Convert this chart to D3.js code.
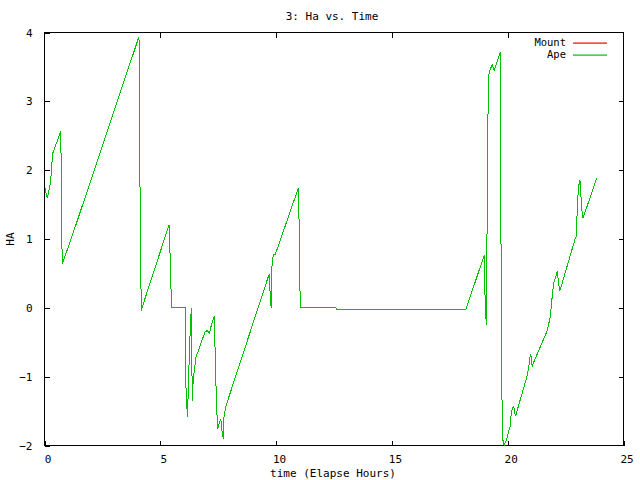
<!DOCTYPE html>
<html><head><meta charset="utf-8">
<script src="https://cdn.jsdelivr.net/npm/d3@7"></script>
<style>body{margin:0;background:#fff}svg{display:block}text{font-family:"DejaVu Sans Mono",monospace;font-size:11px;fill:#000}</style>
</head><body><svg id="c" width="640" height="480"></svg>
<script>
const title = "3: Ha vs. Time";
const xLabel = "time (Elapse Hours)";
const yLabel = "HA";
const seriesNames = ["Mount", "Ape"];
const xTicks = [0, 5, 10, 15, 20, 25];
const yTicks = [-2, -1, 0, 1, 2, 3, 4];
const timeHours = [0.02,0.12,0.21,0.27,0.32,0.35,0.70,0.72,0.74,0.77,1.20,4.08,4.10,4.14,4.18,4.21,5.38,5.41,5.46,5.49,6.09,6.10,6.11,6.17,6.20,6.25,6.30,6.34,6.38,6.42,6.47,6.54,6.93,7.03,7.12,7.22,7.33,7.35,7.39,7.44,7.48,7.53,7.61,7.66,7.72,7.75,7.82,9.66,9.71,9.75,9.79,9.82,9.88,9.97,10.96,10.99,11.02,11.05,12.59,12.61,18.20,18.99,19.03,19.08,19.10,19.13,19.18,19.23,19.33,19.42,19.53,19.67,19.70,19.72,19.77,19.81,19.85,19.96,20.04,20.10,20.14,20.20,20.26,20.30,20.35,20.41,20.82,20.89,20.95,20.98,21.02,21.06,21.11,21.71,21.83,21.88,21.94,21.99,22.09,22.14,22.20,22.25,22.30,22.91,22.95,22.98,23.02,23.07,23.12,23.15,23.20,23.24,23.29,23.84];
const mountHA = [1.74,1.59,1.73,1.86,2.09,2.24,2.56,2.08,1.12,0.64,1.05,3.94,2.95,0.96,-0.04,0.0,1.21,0.9,0.3,0.0,0.0,-0.40,-1.17,-1.59,-1.30,-0.72,-0.24,0.0,-1.35,-1.06,-0.91,-0.72,-0.35,-0.33,-0.37,-0.23,-0.12,-0.40,-0.96,-1.50,-1.76,-1.69,-1.61,-1.78,-1.90,-1.59,-1.44,0.45,0.48,0.13,0.0,0.59,0.78,0.78,1.74,1.29,0.43,0.0,0.0,-0.02,-0.02,0.77,0.01,-0.25,0.64,2.45,3.38,3.45,3.53,3.45,3.56,3.71,2.36,-0.30,-1.81,-1.98,-2.0,-1.90,-1.80,-1.73,-1.58,-1.45,-1.43,-1.53,-1.57,-1.49,-1.01,-0.90,-0.76,-0.67,-0.72,-0.86,-0.80,-0.33,-0.14,0.02,0.23,0.36,0.47,0.53,0.35,0.26,0.30,1.00,1.03,1.22,1.58,1.78,1.85,1.70,1.44,1.30,1.34,1.88];
const apeHA = mountHA.slice();

const svg = d3.select("#c");
const L = 44.5, R = 623.5, T = 32.5, B = 445.5;
const x = d3.scaleLinear().domain([0, 25]).range([L, R]);
const y = d3.scaleLinear().domain([-2, 4]).range([B, T]);

const g = svg.append("g").attr("shape-rendering", "crispEdges");
const tk = 5;
g.append("g").attr("transform", `translate(0,${B})`)
  .call(d3.axisBottom(x).tickValues(xTicks).tickSize(-tk).tickPadding(tk + 5).tickFormat(d3.format("d")))
  .call(s => s.select(".domain").remove())
  .call(s => s.selectAll(".tick text").attr("dx", 3));
g.append("g").attr("transform", `translate(0,${T})`)
  .call(d3.axisTop(x).tickValues(xTicks.slice(1, -1)).tickSize(-tk).tickFormat(""))
  .call(s => s.select(".domain").remove());
g.append("g").attr("transform", `translate(${L},0)`)
  .call(d3.axisLeft(y).tickValues(yTicks).tickSize(-tk).tickPadding(tk + 7).tickFormat(d3.format("d")))
  .call(s => s.select(".domain").remove());
g.append("g").attr("transform", `translate(${R},0)`)
  .call(d3.axisRight(y).tickValues(yTicks.slice(1, -1)).tickSize(-tk).tickFormat(""))
  .call(s => s.select(".domain").remove());
svg.selectAll(".tick text").style("font-family", '"DejaVu Sans Mono",monospace').style("font-size", "11px").attr("fill", "#000");
svg.selectAll(".tick line").attr("stroke", "#000");
g.append("rect").attr("x", L).attr("y", T).attr("width", R - L).attr("height", B - T)
  .attr("fill", "none").attr("stroke", "#000");

const line = d3.line().x(d => x(d[0])).y(d => y(d[1]));
const colors = ["#ff0000", "#00c000"];
[mountHA, apeHA].forEach((vals, i) => {
  svg.append("path").datum(timeHours.map((t, j) => [t, vals[j]]))
    .attr("d", line).attr("fill", "none").attr("stroke", colors[i]).attr("stroke-width", 1)
    .attr("shape-rendering", "crispEdges");
});

seriesNames.forEach((n, i) => {
  const yy = 42.5 + i * 12;
  svg.append("text").attr("x", 566).attr("y", yy).attr("dy", "0.35em").attr("text-anchor", "end")
    .style("font-size", "10.5px").text(n);
  svg.append("rect").attr("x", 573).attr("y", Math.round(yy) - 0.5).attr("width", 34).attr("height", 1.2)
    .attr("fill", colors[i]);
});

svg.append("text").attr("x", 332).attr("y", 16).attr("dy", "0.35em").attr("text-anchor", "middle").text(title);
svg.append("text").attr("x", 333).attr("y", 473).attr("dy", "0.35em").attr("text-anchor", "middle").text(xLabel);
svg.append("text").attr("transform", "translate(10,239) rotate(-90)").attr("dy", "0.35em").attr("text-anchor", "middle").text(yLabel);
</script></body></html>
